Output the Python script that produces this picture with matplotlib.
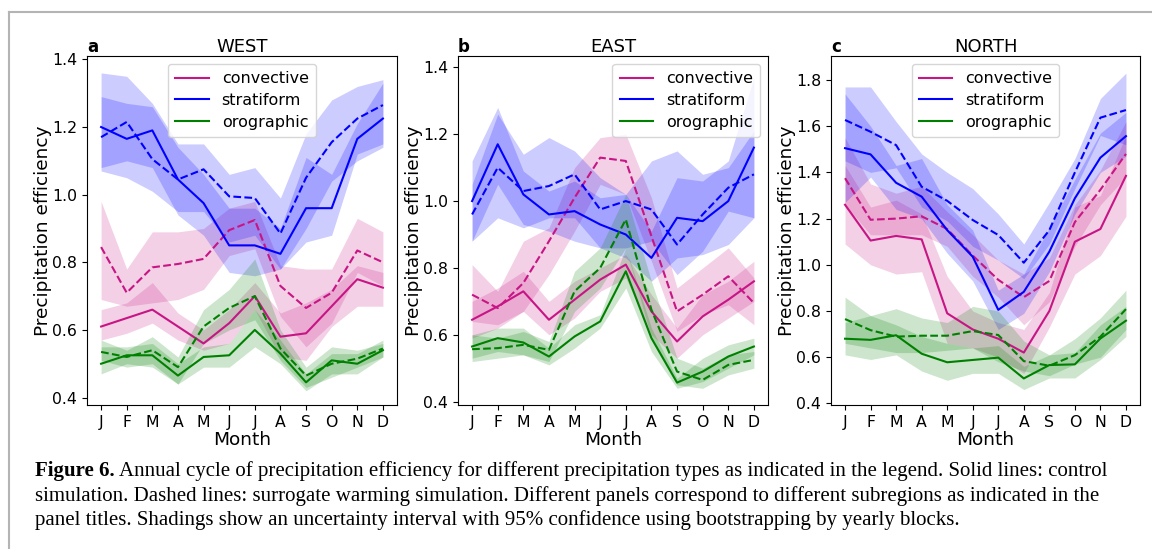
import numpy as np
import matplotlib
matplotlib.use('Agg')
import matplotlib.pyplot as plt
from matplotlib.lines import Line2D

months = ['J', 'F', 'M', 'A', 'M', 'J', 'J', 'A', 'S', 'O', 'N', 'D']

# ---------------- WEST ----------------
west_conv_ctrl = [0.61, 0.635, 0.66, 0.61, 0.56, 0.62, 0.70, 0.58, 0.59, 0.67, 0.75, 0.725]
west_conv_ctrl_lo = [0.57, 0.59, 0.62, 0.57, 0.54, 0.56, 0.66, 0.52, 0.51, 0.61, 0.67, 0.67]
west_conv_ctrl_hi = [0.66, 0.68, 0.74, 0.65, 0.60, 0.66, 0.74, 0.65, 0.68, 0.72, 0.79, 0.77]
west_conv_warm = [0.845, 0.71, 0.785, 0.795, 0.81, 0.895, 0.925, 0.73, 0.665, 0.71, 0.835, 0.80]
west_conv_warm_lo = [0.69, 0.67, 0.68, 0.69, 0.72, 0.82, 0.84, 0.64, 0.55, 0.62, 0.77, 0.73]
west_conv_warm_hi = [0.98, 0.78, 0.89, 0.89, 0.90, 0.96, 0.98, 0.79, 0.78, 0.78, 0.93, 0.89]

west_strat_ctrl = [1.20, 1.165, 1.19, 1.045, 0.975, 0.85, 0.85, 0.825, 0.96, 0.96, 1.165, 1.225]
west_strat_ctrl_lo = [1.08, 1.10, 1.08, 0.94, 0.88, 0.77, 0.76, 0.78, 0.86, 0.88, 1.12, 1.15]
west_strat_ctrl_hi = [1.29, 1.27, 1.26, 1.14, 1.06, 0.96, 0.96, 0.90, 1.11, 1.06, 1.21, 1.33]
west_strat_warm = [1.17, 1.215, 1.105, 1.045, 1.075, 0.995, 0.99, 0.885, 1.05, 1.155, 1.225, 1.265]
west_strat_warm_lo = [1.07, 1.05, 1.01, 0.95, 0.95, 0.86, 0.88, 0.78, 0.90, 1.04, 1.10, 1.14]
west_strat_warm_hi = [1.36, 1.35, 1.27, 1.15, 1.15, 1.06, 1.08, 0.99, 1.18, 1.28, 1.32, 1.34]

west_oro_ctrl = [0.50, 0.525, 0.525, 0.465, 0.52, 0.525, 0.60, 0.53, 0.445, 0.51, 0.50, 0.54]
west_oro_ctrl_lo = [0.47, 0.50, 0.49, 0.44, 0.49, 0.49, 0.55, 0.50, 0.42, 0.47, 0.47, 0.52]
west_oro_ctrl_hi = [0.55, 0.55, 0.56, 0.50, 0.55, 0.56, 0.66, 0.57, 0.47, 0.53, 0.53, 0.57]
west_oro_warm = [0.535, 0.52, 0.54, 0.49, 0.61, 0.665, 0.70, 0.545, 0.465, 0.50, 0.515, 0.545]
west_oro_warm_lo = [0.51, 0.49, 0.50, 0.44, 0.56, 0.60, 0.63, 0.51, 0.43, 0.46, 0.49, 0.52]
west_oro_warm_hi = [0.57, 0.54, 0.58, 0.52, 0.66, 0.72, 0.81, 0.60, 0.49, 0.55, 0.54, 0.56]

# ---------------- EAST ----------------
east_conv_ctrl = [0.645, 0.685, 0.73, 0.645, 0.705, 0.765, 0.81, 0.67, 0.58, 0.655, 0.705, 0.76]
east_conv_ctrl_lo = [0.59, 0.62, 0.67, 0.60, 0.65, 0.73, 0.77, 0.60, 0.53, 0.60, 0.65, 0.70]
east_conv_ctrl_hi = [0.70, 0.74, 0.79, 0.70, 0.76, 0.80, 0.84, 0.72, 0.62, 0.72, 0.76, 0.82]
east_conv_warm = [0.72, 0.68, 0.755, 0.88, 1.01, 1.13, 1.12, 0.895, 0.67, 0.72, 0.775, 0.695]
east_conv_warm_lo = [0.64, 0.63, 0.67, 0.78, 0.91, 1.05, 1.02, 0.82, 0.61, 0.66, 0.69, 0.63]
east_conv_warm_hi = [0.81, 0.73, 0.88, 0.92, 1.10, 1.19, 1.20, 1.01, 0.74, 0.80, 0.86, 0.77]

east_strat_ctrl = [1.00, 1.17, 1.02, 0.96, 0.97, 0.93, 0.90, 0.83, 0.95, 0.94, 1.00, 1.16]
east_strat_ctrl_lo = [0.88, 1.05, 0.93, 0.91, 0.88, 0.86, 0.83, 0.76, 0.83, 0.84, 0.87, 0.95]
east_strat_ctrl_hi = [1.12, 1.28, 1.09, 1.03, 1.06, 1.01, 1.02, 0.91, 1.07, 1.06, 1.12, 1.37]
east_strat_warm = [0.96, 1.10, 1.03, 1.045, 1.08, 0.975, 1.00, 0.975, 0.87, 0.96, 1.04, 1.08]
east_strat_warm_lo = [0.88, 0.95, 0.92, 0.95, 0.95, 0.86, 0.86, 0.88, 0.78, 0.85, 0.97, 0.95]
east_strat_warm_hi = [1.05, 1.26, 1.14, 1.19, 1.15, 1.07, 1.02, 1.12, 1.15, 1.08, 1.10, 1.21]

east_oro_ctrl = [0.565, 0.59, 0.577, 0.535, 0.595, 0.64, 0.79, 0.59, 0.457, 0.49, 0.535, 0.565]
east_oro_ctrl_lo = [0.53, 0.55, 0.54, 0.51, 0.56, 0.62, 0.74, 0.55, 0.44, 0.46, 0.50, 0.54]
east_oro_ctrl_hi = [0.60, 0.62, 0.62, 0.56, 0.63, 0.66, 0.86, 0.62, 0.47, 0.53, 0.57, 0.59]
east_oro_warm = [0.557, 0.56, 0.57, 0.555, 0.73, 0.80, 0.945, 0.675, 0.49, 0.465, 0.51, 0.525]
east_oro_warm_lo = [0.52, 0.53, 0.54, 0.52, 0.67, 0.74, 0.86, 0.59, 0.45, 0.44, 0.48, 0.50]
east_oro_warm_hi = [0.60, 0.59, 0.61, 0.58, 0.79, 0.86, 1.02, 0.76, 0.53, 0.50, 0.54, 0.55]

# ---------------- NORTH ----------------
north_conv_ctrl = [1.26, 1.105, 1.125, 1.11, 0.79, 0.72, 0.68, 0.62, 0.80, 1.10, 1.155, 1.385]
north_conv_ctrl_lo = [1.09, 1.00, 0.96, 0.97, 0.66, 0.64, 0.60, 0.53, 0.73, 0.96, 1.04, 1.21]
north_conv_ctrl_hi = [1.43, 1.25, 1.28, 1.22, 0.95, 0.80, 0.75, 0.72, 0.88, 1.25, 1.30, 1.56]
north_conv_warm = [1.375, 1.195, 1.20, 1.21, 1.155, 1.04, 0.935, 0.86, 0.93, 1.185, 1.325, 1.48]
north_conv_warm_lo = [1.26, 1.13, 1.13, 1.13, 1.08, 0.95, 0.86, 0.74, 0.84, 1.08, 1.26, 1.38]
north_conv_warm_hi = [1.55, 1.35, 1.31, 1.34, 1.23, 1.13, 1.02, 0.96, 1.03, 1.26, 1.41, 1.62]

north_strat_ctrl = [1.505, 1.478, 1.355, 1.295, 1.15, 1.035, 0.805, 0.883, 1.057, 1.288, 1.464, 1.557]
north_strat_ctrl_lo = [1.27, 1.38, 1.24, 1.20, 1.05, 0.93, 0.72, 0.79, 0.97, 1.22, 1.40, 1.47]
north_strat_ctrl_hi = [1.74, 1.60, 1.43, 1.46, 1.26, 1.15, 0.89, 0.96, 1.16, 1.37, 1.57, 1.66]
north_strat_warm = [1.627, 1.576, 1.518, 1.338, 1.277, 1.194, 1.129, 1.009, 1.15, 1.40, 1.637, 1.67]
north_strat_warm_lo = [1.45, 1.40, 1.42, 1.25, 1.19, 1.08, 1.02, 0.94, 1.09, 1.33, 1.56, 1.52]
north_strat_warm_hi = [1.77, 1.77, 1.62, 1.48, 1.40, 1.33, 1.22, 1.09, 1.27, 1.46, 1.72, 1.83]

north_oro_ctrl = [0.68, 0.675, 0.695, 0.615, 0.578, 0.588, 0.598, 0.508, 0.566, 0.569, 0.681, 0.758]
north_oro_ctrl_lo = [0.61, 0.59, 0.61, 0.54, 0.50, 0.53, 0.53, 0.46, 0.51, 0.51, 0.59, 0.69]
north_oro_ctrl_hi = [0.75, 0.78, 0.74, 0.69, 0.66, 0.64, 0.65, 0.56, 0.61, 0.62, 0.74, 0.82]
north_oro_warm = [0.765, 0.717, 0.689, 0.693, 0.693, 0.713, 0.696, 0.583, 0.563, 0.609, 0.689, 0.808]
north_oro_warm_lo = [0.66, 0.64, 0.62, 0.62, 0.63, 0.64, 0.58, 0.54, 0.52, 0.57, 0.60, 0.72]
north_oro_warm_hi = [0.86, 0.78, 0.81, 0.77, 0.75, 0.82, 0.80, 0.67, 0.61, 0.68, 0.77, 0.89]

regions = ['WEST', 'EAST', 'NORTH']
panel_letters = ['a', 'b', 'c']
types = ['convective', 'stratiform', 'orographic']
colors = {'convective': 'mediumvioletred', 'stratiform': 'blue', 'orographic': 'green'}

data = {
    'WEST': {
        'convective': (west_conv_ctrl, west_conv_ctrl_lo, west_conv_ctrl_hi,
                       west_conv_warm, west_conv_warm_lo, west_conv_warm_hi),
        'stratiform': (west_strat_ctrl, west_strat_ctrl_lo, west_strat_ctrl_hi,
                       west_strat_warm, west_strat_warm_lo, west_strat_warm_hi),
        'orographic': (west_oro_ctrl, west_oro_ctrl_lo, west_oro_ctrl_hi,
                       west_oro_warm, west_oro_warm_lo, west_oro_warm_hi),
    },
    'EAST': {
        'convective': (east_conv_ctrl, east_conv_ctrl_lo, east_conv_ctrl_hi,
                       east_conv_warm, east_conv_warm_lo, east_conv_warm_hi),
        'stratiform': (east_strat_ctrl, east_strat_ctrl_lo, east_strat_ctrl_hi,
                       east_strat_warm, east_strat_warm_lo, east_strat_warm_hi),
        'orographic': (east_oro_ctrl, east_oro_ctrl_lo, east_oro_ctrl_hi,
                       east_oro_warm, east_oro_warm_lo, east_oro_warm_hi),
    },
    'NORTH': {
        'convective': (north_conv_ctrl, north_conv_ctrl_lo, north_conv_ctrl_hi,
                       north_conv_warm, north_conv_warm_lo, north_conv_warm_hi),
        'stratiform': (north_strat_ctrl, north_strat_ctrl_lo, north_strat_ctrl_hi,
                       north_strat_warm, north_strat_warm_lo, north_strat_warm_hi),
        'orographic': (north_oro_ctrl, north_oro_ctrl_lo, north_oro_ctrl_hi,
                       north_oro_warm, north_oro_warm_lo, north_oro_warm_hi),
    },
}

ylims = {'WEST': (0.378, 1.41), 'EAST': (0.39, 1.434), 'NORTH': (0.393, 1.904)}
yticks = {'WEST': np.arange(0.4, 1.41, 0.2), 'EAST': np.arange(0.4, 1.41, 0.2),
          'NORTH': np.arange(0.4, 1.81, 0.2)}
legend_loc = {'WEST': 'upper center', 'EAST': 'upper right', 'NORTH': 'upper center'}

W, H = 1152, 549
fig = plt.figure(figsize=(W / 100, H / 100), dpi=100)

# axes boxes in pixels: left, right, top, bottom
boxes = [(87, 397, 56, 405), (458, 768, 56, 405), (831, 1140, 56, 405)]
x = np.arange(12)

for region, letter, (l, r, t, b) in zip(regions, panel_letters, boxes):
    ax = fig.add_axes([l / W, 1 - b / H, (r - l) / W, (b - t) / H])
    for typ in types:
        c = colors[typ]
        ctrl, clo, chi, warm, wlo, whi = data[region][typ]
        ax.fill_between(x, clo, chi, color=c, alpha=0.2, linewidth=0)
        ax.fill_between(x, wlo, whi, color=c, alpha=0.2, linewidth=0)
        ax.plot(x, ctrl, color=c, lw=1.5, label=typ)
        ax.plot(x, warm, color=c, lw=1.5, ls='--')
    ax.set_xlim(-0.55, 11.55)
    ax.set_ylim(*ylims[region])
    ax.set_yticks(yticks[region])
    ax.set_yticklabels(['%.1f' % v for v in yticks[region]])
    ax.set_xticks(x)
    ax.set_xticklabels(months)
    ax.tick_params(labelsize=11.3)
    ax.set_xlabel('Month', fontsize=13.3, labelpad=1)
    ax.set_ylabel('Precipitation efficiency', fontsize=13.3, labelpad=0)
    ax.set_title(region, fontsize=13, pad=3)
    ax.text(0, 1.0, letter, transform=ax.transAxes, ha='left', va='bottom',
            fontsize=12, fontweight='bold')
    ax.legend(loc=legend_loc[region], fontsize=11.5, handlelength=2.1,
              borderpad=0.45, labelspacing=0.42)

# grey page frame
fig.add_artist(Line2D([9 / W, 9 / W], [0, 1 - 12 / H], color='#b4b4b4', lw=1.5))
fig.add_artist(Line2D([9 / W, 1], [1 - 12 / H, 1 - 12 / H], color='#b4b4b4', lw=1.5))

# caption
cap_font = 'Liberation Serif'
cap_size = 15.0
lines = [
    'Annual cycle of precipitation efficiency for different precipitation types as indicated in the legend. Solid lines: control',
    'simulation. Dashed lines: surrogate warming simulation. Different panels correspond to different subregions as indicated in the',
    'panel titles. Shadings show an uncertainty interval with 95% confidence using bootstrapping by yearly blocks.',
]
baselines = [476, 501, 525]
renderer = fig.canvas.get_renderer()
bold = fig.text(35 / W, 1 - baselines[0] / H, 'Figure 6.', family=cap_font,
                fontweight='bold', fontsize=cap_size, va='baseline', ha='left')
bb = bold.get_window_extent(renderer=renderer)
fig.text((bb.x1 + 4) / W, 1 - baselines[0] / H, lines[0], family=cap_font,
         fontsize=cap_size, va='baseline', ha='left')
for txt, yb in zip(lines[1:], baselines[1:]):
    fig.text(35 / W, 1 - yb / H, txt, family=cap_font, fontsize=cap_size,
             va='baseline', ha='left')

fig.savefig('out.png', dpi=100)
